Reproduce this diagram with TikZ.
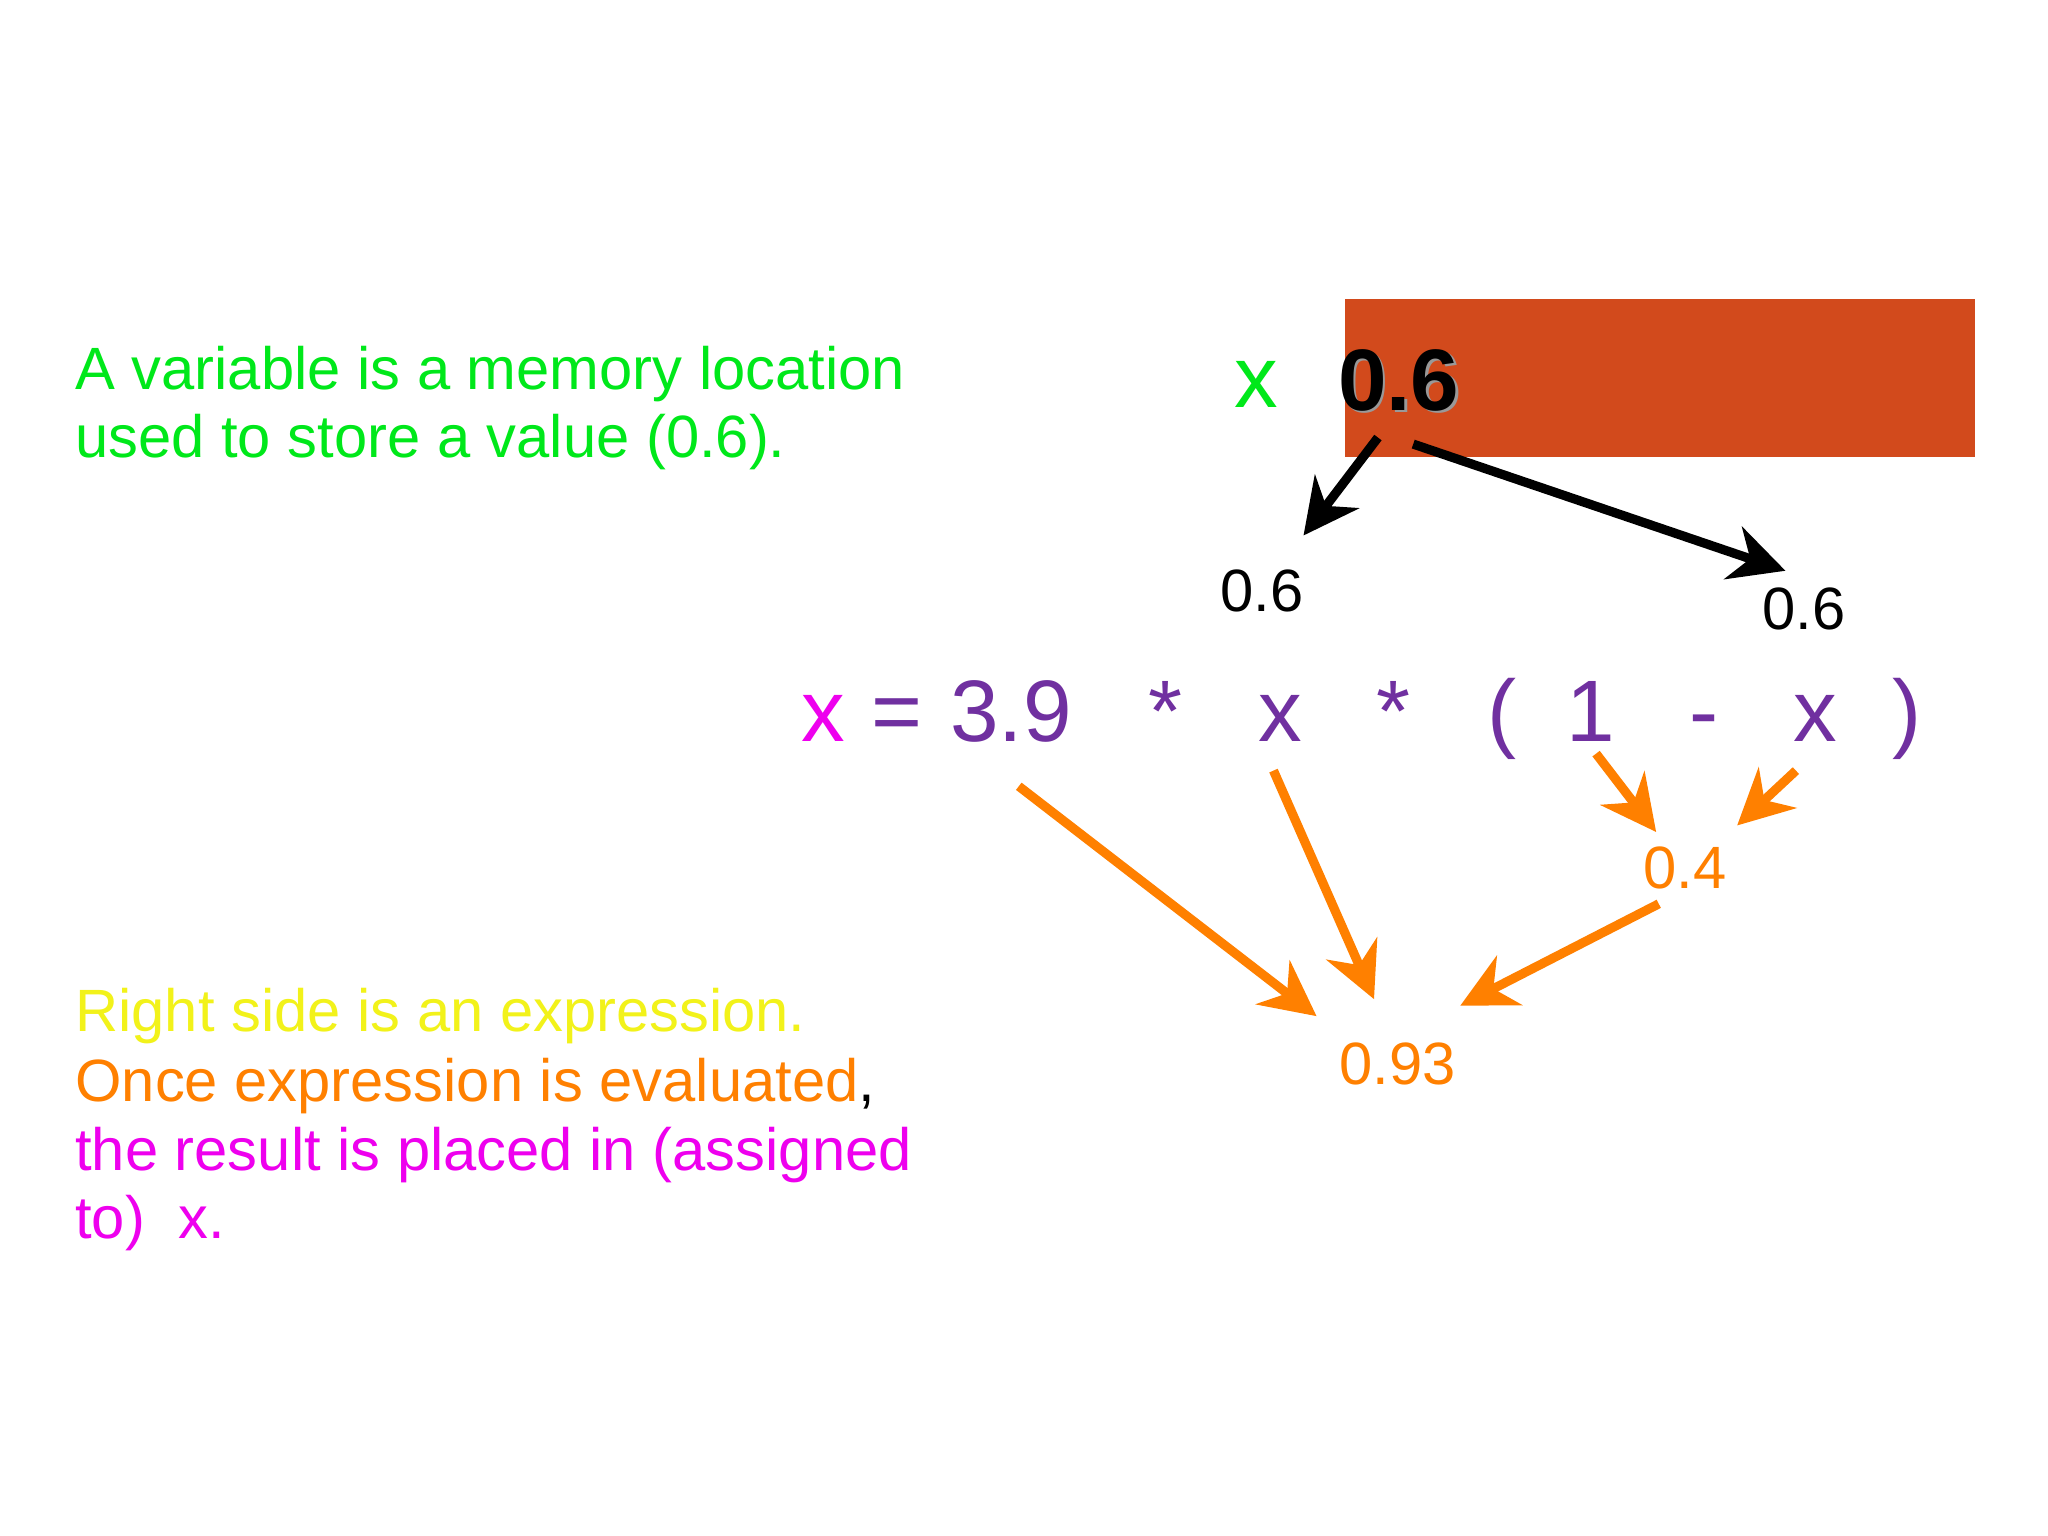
\documentclass[tikz,border=0pt]{standalone}
\usepackage{fontspec}
\setmainfont{Liberation Sans}
\usetikzlibrary{arrows.meta}
\definecolor{grn}{HTML}{00E81A}
\definecolor{yel}{HTML}{F2F21A}
\definecolor{org}{HTML}{FF8000}
\definecolor{mag}{HTML}{EE00EE}
\definecolor{pur}{HTML}{7030A0}
\definecolor{boxc}{HTML}{D24A1C}
\begin{document}
\begin{tikzpicture}[x=0.01cm,y=-0.01cm,
  txt/.style={anchor=base west,inner sep=0pt,font=\fontsize{13}{15}\selectfont},
  eq/.style={anchor=base,inner sep=0pt,font=\fontsize{19}{22}\selectfont,text=pur},
  val/.style={anchor=base,inner sep=0pt,font=\fontsize{13}{15}\selectfont},
  blk/.style={line width=2pt,-{Stealth[length=12pt,width=12pt]}},
  oar/.style={draw=org,line width=2pt,-{Stealth[length=12pt,width=12pt]}}]
\fill[white] (0,0) rectangle (1568,1176);
\useasboundingbox (0,0) rectangle (1568,1176);
\fill[boxc] (1030,229) rectangle (1512,350);
\node[txt,text=grn] (t1) at (57,298) {A variable is a memory location};
\node[txt,text=grn] (t2) at (57,350) {used to store a value (0.6).};
\node[txt,text=yel] (t3) at (57,790) {Right side is an expression.};
\node[txt,text=org] (t4) at (57,843) {Once expression is evaluated\textcolor{black}{,}};
\node[txt,text=mag] (t5) at (57,896) {the result is placed in (assigned};
\node[txt,text=mag] (t6) at (57,948) {to)\ \ x.};
\node[eq,text=grn] (vx) at (962,312) {x};
\node[eq,text=black!40,font=\fontsize{19}{22}\bfseries] at (1073,316) {0.6};
\node[eq,text=black,font=\fontsize{19}{22}\bfseries] (v6) at (1071,314) {0.6};
\node[val] (l6) at (966,468) {0.6};
\node[val] (r6) at (1381,482) {0.6};
\node[eq,text=mag] (ex) at (630,568) {x};
\node[eq] at (687,568) {=};
\node[eq] (e39) at (774,568) {3.9};
\node[eq] at (892,568) {*};
\node[eq] (ex2) at (980,568) {x};
\node[eq] at (1067,568) {*};
\node[eq] at (1150,568) {(};
\node[eq] (e1) at (1218,568) {1};
\node[eq] at (1305,568) {-};
\node[eq] (ex3) at (1390,568) {x};
\node[eq] at (1460,568) {)};
\node[val,text=org] (v04) at (1290,680) {0.4};
\node[val,text=org] (v93) at (1070,830) {0.93};
\coordinate (a1) at (1055,335); \coordinate (b1) at (998,410);
\coordinate (a2) at (1082,340); \coordinate (b2) at (1367,437);
\draw[blk] (a1) -- (b1);
\draw[blk] (a2) -- (b2);
\coordinate (c1) at (780,602); \coordinate (d1) at (1008,778);
\coordinate (c2) at (975,590); \coordinate (d2) at (1052,765);
\coordinate (c3) at (1222,577); \coordinate (d3) at (1268,637);
\coordinate (c4) at (1375,590); \coordinate (d4) at (1330,632);
\coordinate (c5) at (1270,692); \coordinate (d5) at (1118,770);
\draw[oar] (c1) -- (d1);
\draw[oar] (c2) -- (d2);
\draw[oar] (c3) -- (d3);
\draw[oar] (c4) -- (d4);
\draw[oar] (c5) -- (d5);
\end{tikzpicture}
\end{document}
